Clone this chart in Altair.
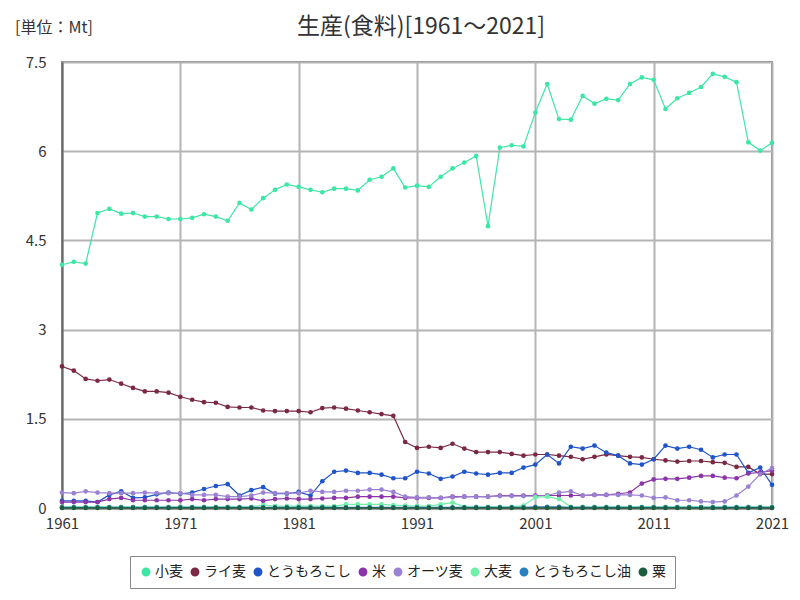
import altair as alt
import pandas as pd

years = list(range(1961, 2022))
series_names = ["小麦", "ライ麦", "とうもろこし", "米", "オーツ麦", "大麦", "とうもろこし油", "粟"]
series_colors = ["#3ee6a6", "#7b2845", "#1f55c8", "#8a35a8", "#9a82d2", "#6ff0a8", "#2a7fc0", "#1d5e3e"]

wheat = [4.09, 4.14, 4.11, 4.96, 5.03, 4.95, 4.96, 4.90, 4.90, 4.86,
         4.86, 4.88, 4.94, 4.90, 4.83, 5.13, 5.02, 5.21, 5.35, 5.44,
         5.40, 5.35, 5.31, 5.37, 5.37, 5.34, 5.52, 5.57, 5.71, 5.39,
         5.42, 5.40, 5.57, 5.71, 5.81, 5.92, 4.74, 6.06, 6.10, 6.08,
         6.65, 7.13, 6.54, 6.53, 6.93, 6.80, 6.88, 6.86, 7.13, 7.24,
         7.20, 6.71, 6.89, 6.98, 7.08, 7.30, 7.25, 7.16, 6.15, 6.01,
         6.14]
rye = [2.38, 2.31, 2.17, 2.14, 2.16, 2.09, 2.02, 1.96, 1.96, 1.94,
       1.87, 1.82, 1.78, 1.77, 1.70, 1.69, 1.69, 1.64, 1.63, 1.63,
       1.63, 1.61, 1.68, 1.69, 1.67, 1.64, 1.61, 1.58, 1.55, 1.11,
       1.01, 1.03, 1.01, 1.08, 1.00, 0.94, 0.94, 0.94, 0.91, 0.88,
       0.90, 0.90, 0.88, 0.86, 0.82, 0.86, 0.90, 0.88, 0.86, 0.85,
       0.82, 0.80, 0.78, 0.79, 0.79, 0.77, 0.76, 0.69, 0.69, 0.57,
       0.57]
corn = [0.12, 0.12, 0.12, 0.10, 0.22, 0.28, 0.17, 0.18, 0.23, 0.26,
        0.24, 0.26, 0.32, 0.37, 0.40, 0.21, 0.30, 0.35, 0.24, 0.24,
        0.27, 0.21, 0.45, 0.61, 0.63, 0.59, 0.59, 0.56, 0.50, 0.50,
        0.61, 0.58, 0.49, 0.53, 0.61, 0.58, 0.56, 0.59, 0.59, 0.68,
        0.73, 0.90, 0.75, 1.03, 1.00, 1.05, 0.93, 0.88, 0.75, 0.73,
        0.82, 1.05, 1.00, 1.03, 0.98, 0.85, 0.90, 0.90, 0.59, 0.68,
        0.39]
rice = [0.10, 0.10, 0.10, 0.10, 0.15, 0.17, 0.13, 0.13, 0.13, 0.13,
        0.13, 0.15, 0.13, 0.15, 0.15, 0.15, 0.16, 0.12, 0.15, 0.16,
        0.15, 0.15, 0.16, 0.17, 0.17, 0.19, 0.19, 0.19, 0.19, 0.17,
        0.17, 0.17, 0.17, 0.19, 0.19, 0.19, 0.19, 0.21, 0.21, 0.21,
        0.21, 0.21, 0.21, 0.21, 0.21, 0.22, 0.22, 0.24, 0.26, 0.41,
        0.48, 0.49, 0.49, 0.51, 0.54, 0.54, 0.51, 0.50, 0.58, 0.60,
        0.63]
oats = [0.26, 0.25, 0.28, 0.26, 0.25, 0.25, 0.25, 0.26, 0.25, 0.25,
        0.25, 0.22, 0.22, 0.22, 0.19, 0.19, 0.21, 0.26, 0.25, 0.25,
        0.25, 0.29, 0.27, 0.27, 0.29, 0.29, 0.31, 0.31, 0.27, 0.19,
        0.18, 0.18, 0.17, 0.18, 0.19, 0.19, 0.19, 0.20, 0.20, 0.20,
        0.20, 0.21, 0.26, 0.28, 0.21, 0.22, 0.22, 0.22, 0.22, 0.21,
        0.17, 0.18, 0.13, 0.13, 0.11, 0.10, 0.11, 0.21, 0.36, 0.57,
        0.67]
barley = [0.02, 0.02, 0.02, 0.02, 0.02, 0.02, 0.02, 0.02, 0.02, 0.02,
          0.02, 0.02, 0.02, 0.02, 0.02, 0.02, 0.02, 0.05, 0.03, 0.03,
          0.03, 0.03, 0.03, 0.03, 0.06, 0.06, 0.06, 0.06, 0.05, 0.04,
          0.03, 0.03, 0.06, 0.09, 0.02, 0.02, 0.02, 0.02, 0.02, 0.04,
          0.18, 0.19, 0.15, 0.02, 0.02, 0.02, 0.02, 0.02, 0.02, 0.02,
          0.02, 0.02, 0.02, 0.02, 0.02, 0.02, 0.02, 0.02, 0.02, 0.02,
          0.02]
corn_oil = [0.01] * 40 + [0.02, 0.02, 0.02] + [0.01] * 18
millet = [0.002] * 61

all_values = [wheat, rye, corn, rice, oats, barley, corn_oil, millet]

rows = []
for idx, (name, vals) in enumerate(zip(series_names, all_values)):
    for yr, v in zip(years, vals):
        rows.append({"year": yr, "series": name, "value": v, "k": idx})
df = pd.DataFrame(rows)

FONT = "Noto Sans CJK JP"

x_enc = alt.X(
    "year:Q",
    scale=alt.Scale(domain=[1961, 2021], nice=False, zero=False),
    axis=alt.Axis(
        values=[1961, 1971, 1981, 1991, 2001, 2011, 2021],
        format="d", title=None, grid=True, gridColor="#b4b4b4", gridWidth=2,
        ticks=False, labelPadding=8, labelFontSize=15, labelFont=FONT,
        labelColor="#333333", domainColor="#666666", domainWidth=2,
        labelFlush=False,
    ),
)
y_enc = alt.Y(
    "value:Q",
    scale=alt.Scale(domain=[0, 7.5], nice=False),
    axis=alt.Axis(
        values=[0, 1.5, 3, 4.5, 6, 7.5], format=".1~f",
        title=None,
        grid=True, gridColor="#b4b4b4", gridWidth=2,
        ticks=False, labelPadding=16, labelFontSize=15, labelFont=FONT,
        labelColor="#333333", domainColor="#666666", domainWidth=2,
        labelFlush=False,
    ),
)

legend = alt.Legend(
    title=None, orient="none", legendX=68, legendY=494,
    direction="horizontal", columns=8, symbolType="circle",
    symbolSize=55, labelFontSize=14, labelFont=FONT,
    labelColor="#222222", labelOffset=2, columnPadding=5,
    padding=9, strokeColor="#888888",
)
color_enc = alt.Color("series:N", scale=alt.Scale(domain=series_names, range=series_colors),
                      legend=legend)

lines = alt.Chart(df).mark_line(strokeWidth=1.2).encode(
    x=x_enc, y=y_enc, color=color_enc, order=alt.Order("year:Q"),
)
points = alt.Chart(df).mark_circle(size=22, opacity=1).encode(
    x=x_enc, y=y_enc, color=color_enc,
)

unit_df = pd.DataFrame({"t": ["[単位：Mt]"]})
unit = alt.Chart(unit_df).mark_text(
    align="left", baseline="middle", fontSize=16, font=FONT, color="#333333"
).encode(text="t:N", x=alt.value(-47), y=alt.value(-34))

title_df = pd.DataFrame({"t": ["生産(食料)[1961～2021]"]})
title = alt.Chart(title_df).mark_text(
    align="center", baseline="middle", fontSize=23, font=FONT, color="#333333"
).encode(text="t:N", x=alt.value(359), y=alt.value(-35))

chart = alt.layer(lines, points, unit, title).properties(
    width=710, height=446,
    autosize=alt.AutoSizeParams(type="none"),
    padding={"left": 62, "top": 62, "right": 28, "bottom": 92},
).configure_view(stroke="#888888", strokeWidth=2)

chart.save("out.html", embed_options={"renderer": "svg", "actions": False})
